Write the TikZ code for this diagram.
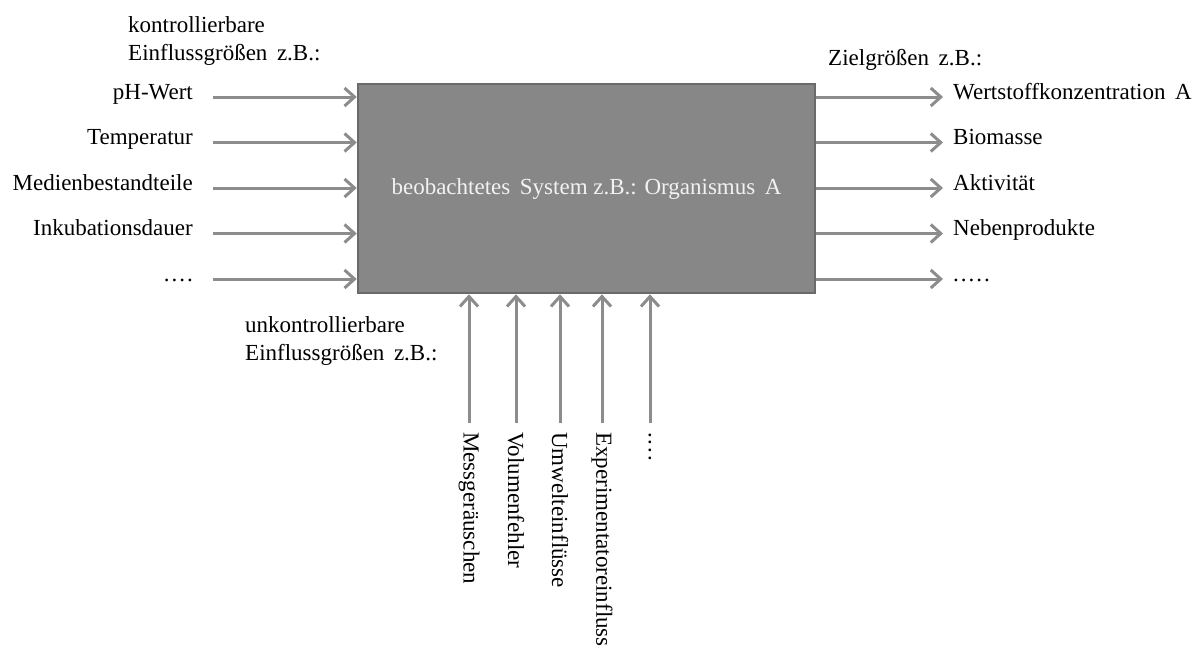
\documentclass[tikz,border=0pt]{standalone}
\usepackage{fontspec}
\setmainfont{Liberation Serif}
\usetikzlibrary{arrows.meta}
\definecolor{boxfill}{HTML}{878787}
\definecolor{boxdraw}{HTML}{6A6A6A}
\definecolor{arrgray}{HTML}{8C8C8C}
\definecolor{boxtext}{HTML}{F2F2F2}
\newcommand{\fourdots}{.\kern2pt.\kern2pt.\kern2pt.}
\newcommand{\fivedots}{.\kern2pt.\kern2pt.\kern2pt.\kern2pt.}
\begin{document}
\begin{tikzpicture}[x=1pt,y=-1pt,
  every node/.style={font=\fontsize{23}{28}\selectfont, inner sep=0pt},
  arr/.style={draw=arrgray, line width=3pt, -{Straight Barb[length=10pt,width=18pt,line width=3pt]}},
  lbl/.style={anchor=mid east},
  rlbl/.style={anchor=mid west},
  blbl/.style={anchor=west, rotate=-90},
  sysbox/.style={draw=boxdraw, fill=boxfill, line width=2.5pt, minimum width=457pt, minimum height=209pt, text=boxtext}]
\useasboundingbox (0,0) rectangle (1204,648);
\node[sysbox] (sys) at (586.5,188.5) {beobachtetes\, System z.B.: Organismus\, A};
% headings
\node[anchor=base west] (h1) at (128,32) {kontrollierbare};
\node[anchor=base west] (h2) at (128,60) {Einflussgrößen\, z.B.:};
\node[anchor=base west] (h3) at (828,65) {Zielgrößen\, z.B.:};
\node[anchor=base west] (h4) at (245,332) {unkontrollierbare};
\node[anchor=base west] (h5) at (245,360) {Einflussgrößen\, z.B.:};
% left inputs
\foreach \i/\y/\t in {1/97/pH-Wert, 2/142.5/Temperatur, 3/188/Medienbestandteile, 4/233.5/Inkubationsdauer, 5/279/\fourdots}{
  \node[lbl] (l\i) at (193,\y) {\t};
  \coordinate (la\i) at (213,\y);
  \draw[arr] (la\i) -- (la\i -| sys.west);
}
% right outputs
\foreach \i/\y/\t in {1/97/Wertstoffkonzentration\, A, 2/142.5/Biomasse, 3/188/Aktivität, 4/233.5/Nebenprodukte, 5/279/\fivedots}{
  \node[rlbl] (r\i) at (953,\y) {\t};
  \coordinate (ra\i) at (943,\y);
  \draw[arr] (ra\i -| sys.east) -- (ra\i);
}
% bottom disturbances
\foreach \i/\x/\t in {1/469/Messgeräuschen, 2/516/Volumenfehler, 3/560/Umwelteinflüsse, 4/602/Experimentatoreinfluss, 5/650/\fourdots}{
  \coordinate (ba\i) at (\x,423);
  \node[blbl] (b\i) at (\x,432) {\t};
  \draw[arr] (ba\i) -- (ba\i |- sys.south);
}
\end{tikzpicture}
\end{document}
